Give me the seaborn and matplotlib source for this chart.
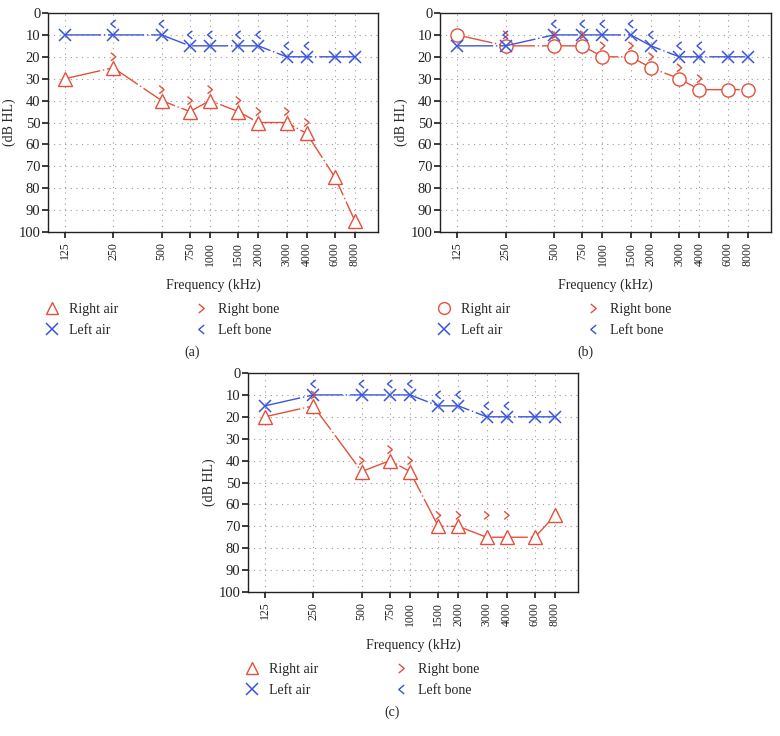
import matplotlib
matplotlib.use("Agg")
import matplotlib.pyplot as plt
import seaborn as sns
from matplotlib.lines import Line2D
from matplotlib.path import Path
from matplotlib.ticker import FixedLocator, FixedFormatter, NullLocator

# audiogram frequencies (Hz)
freqs = [125, 250, 500, 750, 1000, 1500, 2000, 3000, 4000, 6000, 8000]
bone_freqs = [250, 500, 750, 1000, 1500, 2000, 3000, 4000]
db_ticks = list(range(0, 101, 10))

# panel (a)
a_right_air = [30, 25, 40, 45, 40, 45, 50, 50, 55, 75, 95]
a_left_air = [10, 10, 10, 15, 15, 15, 15, 20, 20, 20, 20]
a_right_bone = [20, 35, 40, 35, 40, 45, 45, 50]
a_left_bone = [5, 5, 10, 10, 10, 10, 15, 15]

# panel (b)
b_right_air = [10, 15, 15, 15, 20, 20, 25, 30, 35, 35, 35]
b_left_air = [15, 15, 10, 10, 10, 10, 15, 20, 20, 20, 20]
b_right_bone = [10, 10, 10, 15, 15, 20, 25, 30]
b_left_bone = [10, 5, 5, 5, 5, 10, 15, 15]

# panel (c)
c_right_air = [20, 15, 45, 40, 45, 70, 70, 75, 75, 75, 65]
c_left_air = [15, 10, 10, 10, 10, 15, 15, 20, 20, 20, 20]
c_right_bone = [10, 40, 35, 40, 65, 65, 65, 65]
c_left_bone = [5, 5, 5, 5, 10, 10, 15, 15]

RED = "#e4503c"
BLUE = "#3a55dc"
W, H = 780, 736

sns.set_theme(style="white")
plt.rcParams["font.family"] = ["Liberation Serif", "DejaVu Serif"]

fig = plt.figure(figsize=(W / 100, H / 100), dpi=100)

# thin open chevrons for bone conduction
OPEN = [Path.MOVETO, Path.LINETO, Path.LINETO]
RIGHT_BONE = Path([(-0.6, 1), (0.6, 0), (-0.6, -1)], OPEN)
LEFT_BONE = Path([(0.6, 1), (-0.6, 0), (0.6, -1)], OPEN)


def px_axes(left, top, right, bottom):
    return fig.add_axes([left / W, 1 - bottom / H, (right - left) / W, (bottom - top) / H])


LS = (0, (26, 2, 1, 2))


def audiogram(ax, right_air, left_air, right_bone, left_bone, right_marker):
    ms = 10 if right_marker == "^" else 9.5
    sns.lineplot(x=freqs, y=right_air, ax=ax, color=RED, lw=1, linestyle=LS,
                 marker=right_marker, markersize=ms, markerfacecolor="white",
                 markeredgecolor=RED, markeredgewidth=1, zorder=3)
    sns.lineplot(x=freqs, y=left_air, ax=ax, color=BLUE, lw=1, linestyle=LS,
                 marker="x", markersize=9, markeredgecolor=BLUE,
                 markeredgewidth=1.1, zorder=4)
    ax.scatter(bone_freqs, right_bone, marker=RIGHT_BONE, s=34,
               facecolors="none", edgecolors=RED, linewidths=1, zorder=5)
    ax.scatter(bone_freqs, left_bone, marker=LEFT_BONE, s=34,
               facecolors="none", edgecolors=BLUE, linewidths=1, zorder=5)

    ax.set_xscale("log")
    ax.set_xlim(98, 11130)
    ax.set_ylim(100, 0)
    ax.xaxis.set_major_locator(FixedLocator(freqs))
    ax.xaxis.set_major_formatter(FixedFormatter([str(f) for f in freqs]))
    ax.xaxis.set_minor_locator(NullLocator())
    ax.set_yticks(db_ticks)
    ax.grid(True, linestyle=(0, (1, 4)), color="#999999", lw=0.8)
    ax.tick_params(axis="x", labelrotation=90, labelsize=8.5, length=4,
                   direction="out", bottom=True, pad=3, colors="#222222")
    ax.tick_params(axis="y", labelsize=10.5, length=4, direction="out",
                   left=True, pad=1.5, colors="#222222")
    for s in ax.spines.values():
        s.set_color("#222222")
        s.set_linewidth(1)
    ax.set_xlabel("Frequency (kHz)", fontsize=10, labelpad=9)
    ax.set_ylabel("(dB HL)", fontsize=10, labelpad=2)

    handles = [
        Line2D([], [], ls="none", marker=right_marker, markersize=ms - 1,
               markerfacecolor="none", markeredgecolor=RED),
        Line2D([], [], ls="none", marker="x", markersize=9,
               markeredgecolor=BLUE, markeredgewidth=1.1),
        Line2D([], [], ls="none", marker=RIGHT_BONE, markersize=6.5,
               markerfacecolor="none", markeredgecolor=RED, markeredgewidth=1),
        Line2D([], [], ls="none", marker=LEFT_BONE, markersize=6.5,
               markerfacecolor="none", markeredgecolor=BLUE, markeredgewidth=1),
    ]
    labels = ["Right air", "Left air", "Right bone", "Left bone"]
    ax.legend(handles, labels, ncol=2, frameon=False, fontsize=10,
              loc="upper left", bbox_to_anchor=(-0.03, -0.30),
              columnspacing=5.4, handlelength=1.2, handletextpad=0.6,
              labelspacing=0.55, borderaxespad=0)


ax_a = px_axes(48, 13, 378, 232)
audiogram(ax_a, a_right_air, a_left_air, a_right_bone, a_left_bone, "^")
fig.text(192 / W, 1 - 352 / H, "(a)", ha="center", va="center", fontsize=10)

ax_b = px_axes(440, 13, 771, 232)
audiogram(ax_b, b_right_air, b_left_air, b_right_bone, b_left_bone, "o")
fig.text(585 / W, 1 - 352 / H, "(b)", ha="center", va="center", fontsize=10)

ax_c = px_axes(248, 373, 578, 592)
audiogram(ax_c, c_right_air, c_left_air, c_right_bone, c_left_bone, "^")
fig.text(392 / W, 1 - 712 / H, "(c)", ha="center", va="center", fontsize=10)

fig.savefig("out.png", dpi=100, facecolor="white")
